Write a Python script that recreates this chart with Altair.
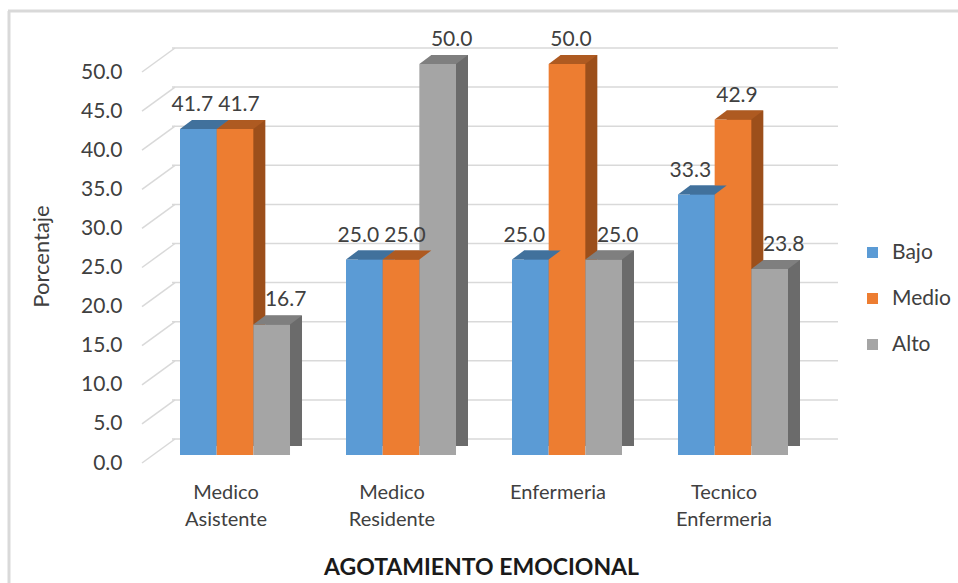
import altair as alt
import pandas as pd

# ---------------- data ----------------
categories = ["Medico Asistente", "Medico Residente", "Enfermeria", "Tecnico Enfermeria"]
series = ["Bajo", "Medio", "Alto"]
bajo = [41.7, 25.0, 25.0, 33.3]
medio = [41.7, 25.0, 50.0, 42.9]
alto = [16.7, 50.0, 25.0, 23.8]
y_ticks = [0, 5, 10, 15, 20, 25, 30, 35, 40, 45, 50]

# ---------------- styles ----------------
front_colors = ["#5b9bd5", "#ed7d31", "#a5a5a5"]
side_colors = ["#4a7fb0", "#9c4f1b", "#6b6b6b"]
top_colors = ["#41719c", "#ae5a21", "#7f7f7f"]
label_dx = [-6, 4, 14]
FONT = "Lato"
TXT = "#404040"
GRID = "#d9d9d9"

rows = []
for s, vals in zip(series, [bajo, medio, alto]):
    for c, v in zip(categories, vals):
        rows.append({"cat": c, "serie": s, "valor": v})
df = pd.DataFrame(rows)
ticks_df = pd.DataFrame({"v": y_ticks})

W, H = 666, 391
BAND = 110.0   # group width in px (bandwidth of x scale)
DEPTH_X = 12

x_scale = alt.Scale(domain=categories, paddingInner=0.3373, paddingOuter=0.1747, align=0.138)
xo_scale = alt.Scale(type="band", domain=series, paddingInner=0, paddingOuter=0)
xo_back_scale = alt.Scale(type="band", domain=series, paddingInner=0, paddingOuter=0,
                          range=[DEPTH_X, BAND + DEPTH_X])
y_scale = alt.Scale(domain=[0, 50], nice=False)

x_axis = alt.Axis(
    labelExpr="split(datum.label, ' ')", labelAngle=0, labelFontSize=20, labelFont=FONT,
    labelColor=TXT, labelLineHeight=27, labelPadding=27, labelOffset=-9,
    ticks=False, domain=False, grid=False,
    title="AGOTAMIENTO EMOCIONAL", titleFont=FONT, titleFontSize=23, titleFontWeight="bold",
    titleColor="#1a1a1a", titleX=309, titleY=112, titleAlign="center", titleBaseline="middle",
)
y_axis = alt.Axis(
    values=y_ticks, format=".1f", labelFontSize=21, labelFont=FONT, labelColor=TXT,
    labelPadding=50, labelOffset=8, ticks=False, domain=False, grid=False,
    title="Porcentaje", titleFont=FONT, titleFontSize=22, titleFontWeight="normal",
    titleColor=TXT, titleAngle=-90, titleX=-131, titleY=192, titleAlign="center",
    titleBaseline="middle",
)

X = alt.X("cat:N", scale=x_scale, sort=categories, axis=x_axis, title="AGOTAMIENTO EMOCIONAL")
XO = alt.XOffset("serie:N", scale=xo_scale, sort=series)
XOB = alt.XOffset("serie:N", scale=xo_back_scale, sort=series)
Y = alt.Y("valor:Q", scale=y_scale, axis=y_axis, title="Porcentaje")
YV = alt.Y("v:Q", scale=y_scale, axis=y_axis, title="Porcentaje")

# border (chart frame)
frame_df = pd.DataFrame({"k": [0]})
frame_left = alt.Chart(frame_df).mark_rule(color=GRID, strokeWidth=3).encode(
    x=alt.value(-163), y=alt.value(-53), y2=alt.value(525)
)
frame_top = alt.Chart(frame_df).mark_rule(color=GRID, strokeWidth=3).encode(
    x=alt.value(-164), x2=alt.value(800), y=alt.value(-53)
)

# back wall gridlines
grid = alt.Chart(ticks_df).mark_rule(color=GRID, strokeWidth=1.5, yOffset=-16).encode(y=YV)
# side wall (diagonal) gridlines
diag = alt.Chart(ticks_df).mark_rule(color=GRID, strokeWidth=1.5, yOffset=8, y2Offset=-16).encode(
    y=YV, y2="v:Q", x=alt.value(-30), x2=alt.value(3),
)

base = alt.Chart(df)

back = base.mark_bar(yOffset=-9, y2Offset=-9).encode(
    x=X, xOffset=XOB, y=Y,
    color=alt.Color("serie:N", scale=alt.Scale(domain=series, range=side_colors), legend=None),
)

front = base.mark_bar().encode(
    x=X, xOffset=XO, y=Y,
    color=alt.Color(
        "serie:N", sort=series,
        scale=alt.Scale(domain=series, range=front_colors),
        legend=alt.Legend(
            title=None, orient="none", legendX=690, legendY=178,
            symbolType="square", symbolSize=121, symbolStrokeWidth=0,
            labelFont=FONT, labelFontSize=21, labelColor=TXT, labelOffset=9,
            rowPadding=24, padding=0,
        ),
    ),
)

# top face of each bar: parallelogram anchored at the bar's top centre
top_shape = "M-18.33,0 L18.33,0 L30.33,-9 L-6.33,-9 Z"
top = base.mark_point(shape=top_shape, size=4, filled=True, opacity=1, strokeWidth=0).encode(
    x=X, xOffset=XO, y=Y,
    color=alt.Color("serie:N", scale=alt.Scale(domain=series, range=top_colors), legend=None),
)

texts = []
for s, dx in zip(series, label_dx):
    texts.append(
        base.transform_filter(alt.datum.serie == s)
        .mark_text(font=FONT, fontSize=21, color=TXT, dx=dx, dy=-18, baseline="alphabetic")
        .encode(x=X, xOffset=XO, y=Y, text=alt.Text("valor:Q", format=".1f"))
    )

chart = (
    alt.layer(grid, diag, back, front, top, *texts, frame_left, frame_top)
    .resolve_scale(color="independent", xOffset="independent")
    .properties(
        width=W, height=H,
        autosize=alt.AutoSizeParams(type="none"),
        padding={"left": 172, "top": 64, "right": 120, "bottom": 128},
        background="white",
    )
    .configure_view(stroke=None)
)

chart.save("out.html", embed_options={"renderer": "svg", "actions": False})
